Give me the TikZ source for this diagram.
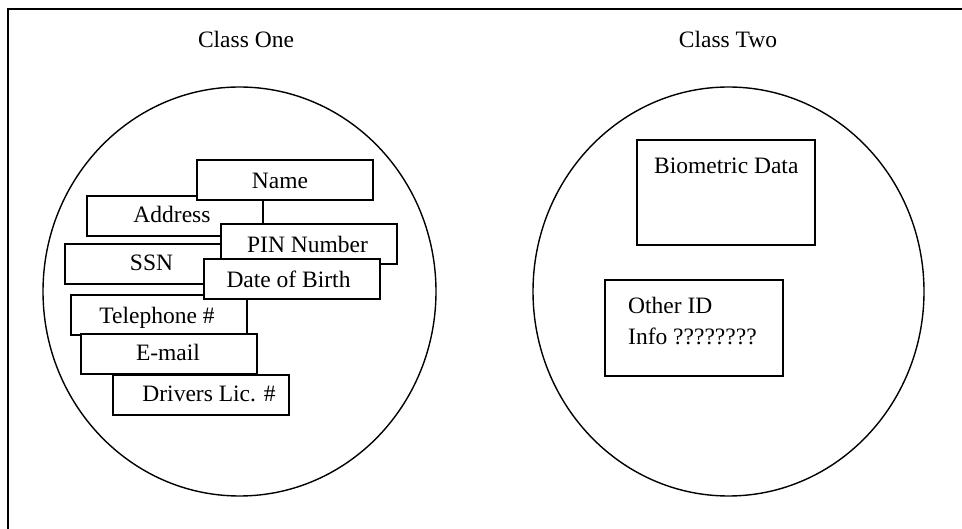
\documentclass[tikz,border=0pt]{standalone}
\usepackage{fontspec}
\setmainfont{Liberation Serif}
\begin{document}
\begin{tikzpicture}[x=1pt,y=-1pt,
  box/.style={draw, line width=1.8pt, fill=white, inner sep=0pt, anchor=north west, minimum width=176pt, minimum height=40pt},
  lbl/.style={inner sep=0pt, anchor=base, font=\fontsize{23.5}{31}\selectfont},
  ring/.style={draw, line width=1.4pt}]
\useasboundingbox (0,0) rectangle (962,529);
\clip (0,0) rectangle (962,529);
% frame
\draw[line width=1.8pt] (8,9) rectangle (980,560);
% titles
\node[lbl] (t1) at (246,48) {Class One};
\node[lbl] (t2) at (728,48) {Class Two};
% circles
\draw[ring] (239.5,291.5) ellipse [x radius=196.5, y radius=204.5];
\draw[ring] (728.5,291.5) ellipse [x radius=195.5, y radius=204.5];
% class one boxes
\node[box] (addr) at (86,195) {};
\node[lbl] (taddr) at (172,223) {Address};
\node[box] (ssn) at (64,243) {};
\node[lbl] (tssn) at (151.5,271) {SSN};
\node[box] (name) at (196,159) {};
\node[lbl] (tname) at (280,189) {Name};
\node[box] (pin) at (220,223) {};
\node[lbl] (tpin) at (307.5,253) {PIN Number};
\node[box] (tel) at (70,294) {};
\node[lbl] (ttel) at (157,324) {Telephone \#};
\node[box] (dob) at (203,258) {};
\node[lbl] (tdob) at (288.5,288) {Date of Birth};
\node[box] (mail) at (80,333) {};
\node[lbl] (tmail) at (168,361) {E-mail};
\node[box] (lic) at (112,374) {};
\node[lbl] (tlic) at (209,402) {Drivers Lic. \#};
% class two boxes
\node[box, minimum width=178pt, minimum height=105pt] (bio) at (636,139) {};
\node[lbl, anchor=base west] (tbio) at (654,174) {Biometric Data};
\node[box, minimum width=178pt, minimum height=96pt] (oth) at (604,279) {};
\node[lbl, anchor=north west, align=left] (toth) at (628,296.5) {Other ID\\Info ????????};
\end{tikzpicture}
\end{document}
